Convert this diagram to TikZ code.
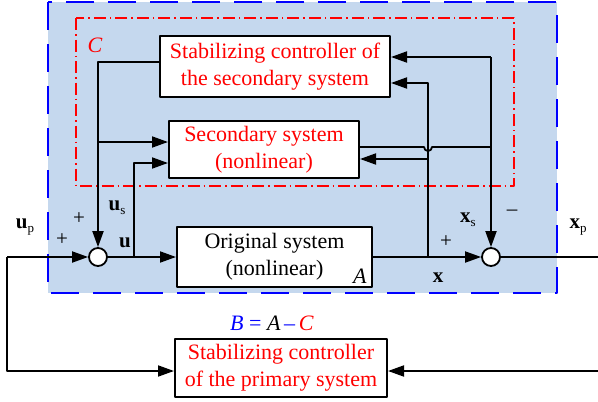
\documentclass[tikz,border=0pt]{standalone}
\usepackage{fontspec}
\setmainfont{Liberation Serif}
\usetikzlibrary{arrows.meta}
\definecolor{boxblue}{RGB}{197,216,238}

\begin{document}
\begin{tikzpicture}[x=1pt,y=-1pt,line join=round,>={Triangle[length=16pt,width=11pt]},line width=1.8pt]
\tikzset{every node/.style={font=\fontsize{22}{27}\selectfont},
  block/.style={draw,fill=white,line width=2pt,align=center,inner sep=0pt},
  sumnode/.style={draw,circle,fill=white,minimum size=18pt,inner sep=0pt,line width=1.8pt},
  lbl/.style={font=\fontsize{21}{24}\selectfont,inner sep=0pt}}
\useasboundingbox (0,0) rectangle (598,402);
% outer box B and inner box C
\fill[boxblue] (48,2) rectangle (557,293);
\draw[blue,line width=2pt,dash pattern=on 28pt off 14pt] (48,2) rectangle (557,293);
\draw[red,line width=1.6pt,dash pattern=on 12pt off 4pt on 1.5pt off 4pt] (76,18) rectangle (514,186);
\node[text=red,inner sep=0pt] (lc) at (95,45) {\textit{C}};
% blocks
\node[block,text=red,minimum width=230pt,minimum height=61pt] (ctrl2) at (275,66.5) {Stabilizing controller of\\the secondary system};
\node[block,text=red,minimum width=190pt,minimum height=57pt] (sec) at (264,149.5) {Secondary system\\(nonlinear)};
\node[block,minimum width=195pt,minimum height=60pt] (orig) at (274.5,257) {Original system\\(nonlinear)};
\node[block,text=red,minimum width=212pt,minimum height=58pt] (prim) at (281,368) {Stabilizing controller\\of the primary system};
\node[inner sep=0pt] (la) at (360,276) {\textit{A}};
\node[sumnode] (s1) at (98,257) {};
\node[sumnode] (s2) at (491,257) {};
% points
\coordinate (in) at (7,257);
\coordinate (out) at (598,257);
\coordinate (fb) at (598,371);
\coordinate (ju) at (134,257);
\coordinate (jx) at (428,257);
\coordinate (jus) at (98,142);
\coordinate (jxs) at (428,159);
\coordinate (top) at (491,57);
\coordinate (jsec) at (491,147);
% connectors
\draw[->] (in) -- (s1);
\draw[->] (in) -- (in |- fb) -- (prim.west |- fb);
\draw[->] (fb) -- (prim.east |- fb);
\draw[->] (s1) -- (orig);
\draw[->] (ju) -- (134,163) -- (sec.west |- 0,163);
\draw[->] (ctrl2.west |- 0,62) -- (98,62) -- (s1);
\draw[->] (jus) -- (sec.west |- jus);
\draw[->] (orig) -- (s2);
\draw[->] (jx) -- (428,83) -- (ctrl2.east |- 0,83);
\draw[->] (jxs) -- (sec.east |- jxs);
\draw (sec.east |- jsec) -- (424,147) arc (180:0:4) -- (jsec);
\draw[->] (top) -- (ctrl2.east |- top);
\draw[->] (top) -- (s2);
\draw (s2) -- (out);
% signal labels
\node[lbl] (lup) at (25,227) {\textbf{u}{\fontsize{13}{14}\selectfont\raisebox{-4pt}{p}}};
\node[lbl] (lp1) at (62,240) {+};
\node[lbl] (lp2) at (79,219) {+};
\node[lbl] (lus) at (117,208) {\textbf{u}{\fontsize{13}{14}\selectfont\raisebox{-4pt}{s}}};
\node[lbl] (lu) at (125,243) {\textbf{u}};
\node[lbl] (lxs) at (468,220) {\textbf{x}{\fontsize{13}{14}\selectfont\raisebox{-4pt}{s}}};
\node[lbl] (lm) at (512,213) {\textendash};
\node[lbl] (lp3) at (446,242) {+};
\node[lbl] (lx) at (438,278) {\textbf{x}};
\node[lbl] (lxp) at (578,227) {\textbf{x}{\fontsize{13}{14}\selectfont\raisebox{-4pt}{p}}};
\node[inner sep=0pt] (lb) at (272,323) {\textcolor{blue}{\textit{B} = }\textit{A}\textcolor{blue}{\,\textendash\,}\textcolor{red}{\textit{C}}};
\end{tikzpicture}
\end{document}
